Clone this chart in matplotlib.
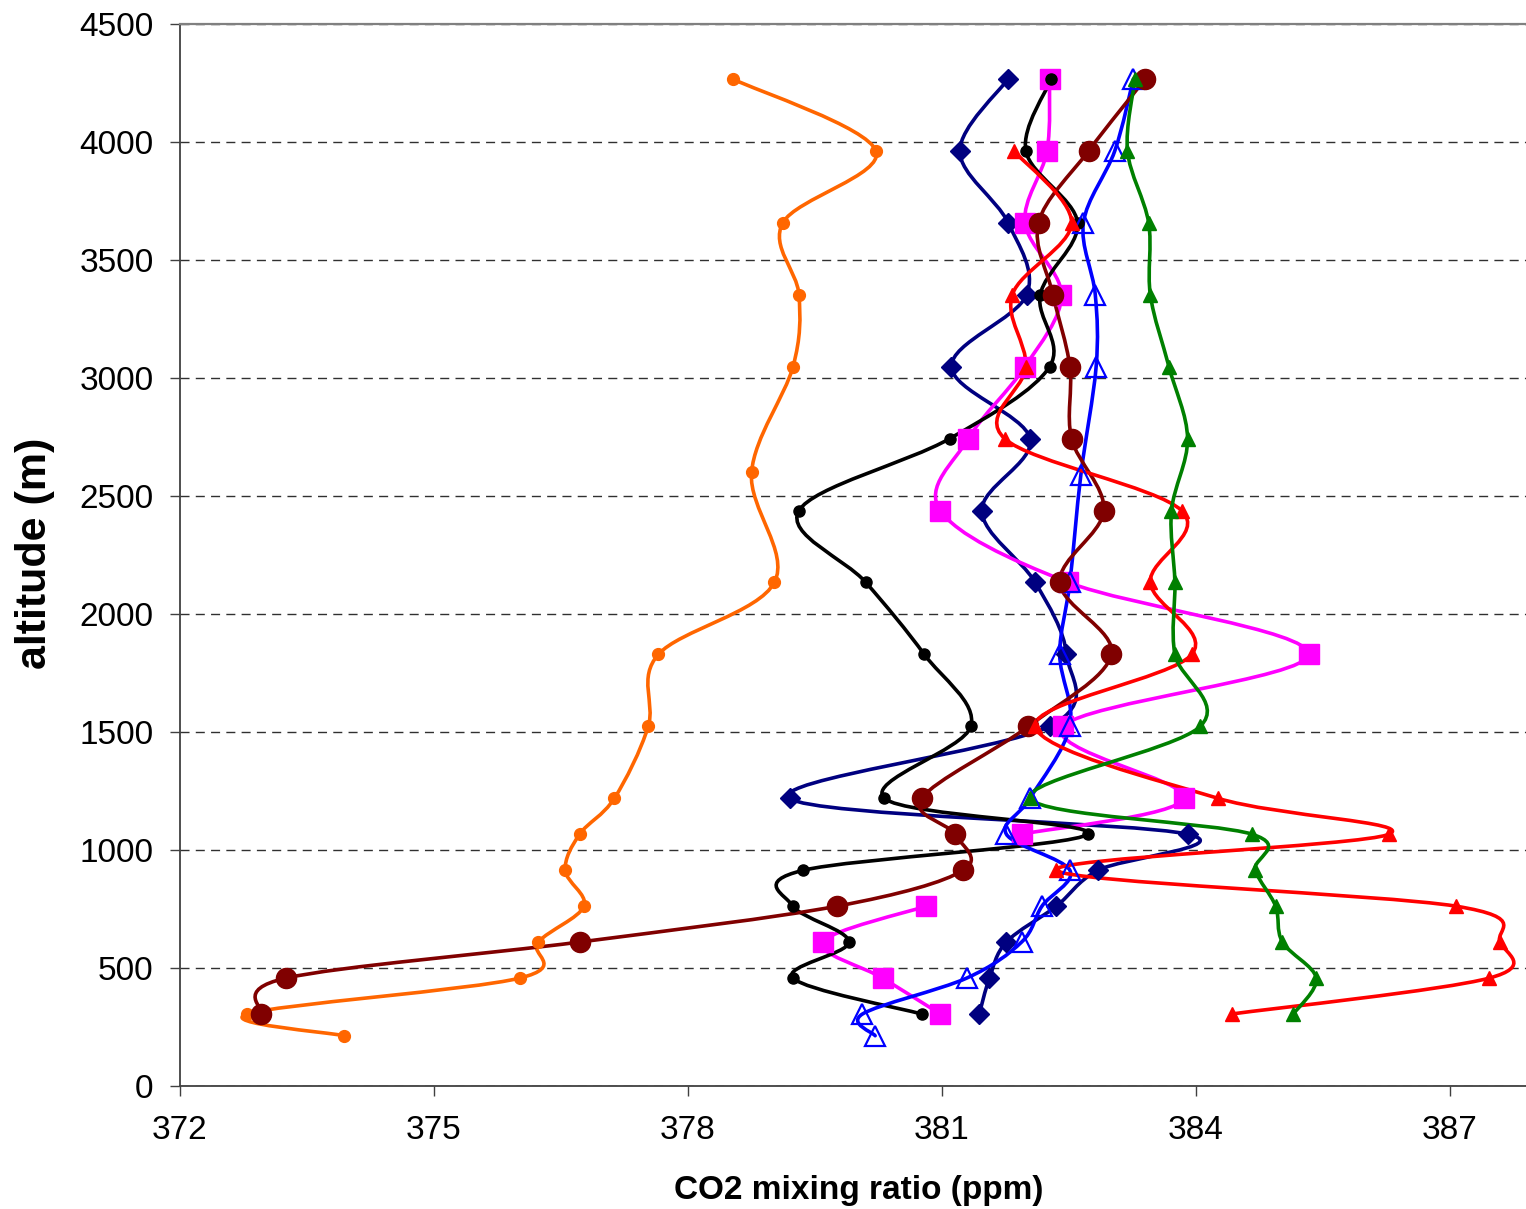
import numpy as np
import matplotlib
matplotlib.use("Agg")
import matplotlib.pyplot as plt
from matplotlib.path import Path
from matplotlib.patches import PathPatch

# -----------------------------
# Data (altitudes in m, CO2 in ppm)
# -----------------------------

# standard flight levels (1000 ft ... 14000 ft) in metres
ALT_LEVELS = [4267, 3962, 3658, 3353, 3048, 2743, 2438, 2134,
              1829, 1524, 1219, 1067, 914, 762, 610, 457, 305]

alt_orange = [4267, 3962, 3658, 3353, 3048, 2600, 2134, 1829, 1524,
              1219, 1067, 914, 762, 610, 457, 305, 213]
co2_orange = [378.53, 380.22, 379.12, 379.31, 379.24, 378.75, 379.02, 377.65, 377.53,
              377.13, 376.72, 376.55, 376.77, 376.23, 376.01, 372.79, 373.94]

alt_navy = ALT_LEVELS
co2_navy = [381.78, 381.21, 381.78, 382.00, 381.11, 382.04, 381.47, 382.10, 382.47,
            382.27, 379.20, 383.90, 382.84, 382.35, 381.76, 381.56, 381.44]

alt_magenta = ALT_LEVELS
co2_magenta = [382.27, 382.24, 381.98, 382.41, 381.98, 381.31, 380.98, 382.49, 385.33,
               382.43, 383.86, 381.94, np.nan, 380.81, 379.59, 380.30, 380.98]

alt_black = ALT_LEVELS
co2_black = [382.29, 381.99, 382.60, 382.16, 382.27, 381.09, 379.31, 380.10, 380.79,
             381.34, 380.32, 382.72, 379.36, 379.24, 379.90, 379.24, 380.76]

alt_blue = [4267, 3962, 3658, 3353, 3048, 2591, 2134, 1829, 1524,
            1219, 1067, 914, 762, 610, 457, 305, 213]
co2_blue = [383.26, 383.04, 382.67, 382.81, 382.82, 382.64, 382.51, 382.39, 382.51,
            382.04, 381.76, 382.51, 382.18, 381.94, 381.29, 380.06, 380.21]

alt_maroon = ALT_LEVELS
co2_maroon = [383.40, 382.73, 382.14, 382.31, 382.51, 382.53, 382.91, 382.39, 383.00,
              382.02, 380.76, 381.15, 381.25, 379.76, 376.72, 373.25, 372.96]

alt_red = ALT_LEVELS[1:]
co2_red = [381.85, 382.53, 381.83, 381.99, 381.74, 383.83, 383.46, 383.95,
           382.10, 384.26, 386.28, 382.35, 387.07, 387.59, 387.46, 384.42]

alt_green = ALT_LEVELS
co2_green = [383.28, 383.19, 383.44, 383.46, 383.68, 383.90, 383.71, 383.75, 383.75,
             384.05, 382.04, 384.66, 384.70, 384.94, 385.02, 385.42, 385.15]

X_TICKS = [372, 375, 378, 381, 384, 387]
Y_TICKS = [0, 500, 1000, 1500, 2000, 2500, 3000, 3500, 4000, 4500]


# -----------------------------
# Helpers
# -----------------------------

def smooth_path(x, y):
    """Excel-like smoothed line: cubic Bezier through the points."""
    pts = np.column_stack([x, y])
    n = len(pts)
    verts = [pts[0]]
    codes = [Path.MOVETO]
    for i in range(n - 1):
        p0 = pts[max(i - 1, 0)]
        p1 = pts[i]
        p2 = pts[i + 1]
        p3 = pts[min(i + 2, n - 1)]
        verts += [p1 + (p2 - p0) / 6.0, p2 - (p3 - p1) / 6.0, p2]
        codes += [Path.CURVE4] * 3
    return Path(verts, codes)


def draw_series(ax, co2, alt, color, marker, ms, mfc=None, mew=1.0, lw=2.6):
    co2 = np.asarray(co2, dtype=float)
    alt = np.asarray(alt, dtype=float)
    ok = np.isfinite(co2)
    # split into runs where the line is not broken
    start = None
    for i in range(len(co2) + 1):
        good = i < len(co2) and ok[i]
        if good and start is None:
            start = i
        elif not good and start is not None:
            if i - start > 1:
                path = smooth_path(co2[start:i], alt[start:i])
                ax.add_patch(PathPatch(path, facecolor="none", edgecolor=color,
                                       lw=lw, capstyle="round", joinstyle="round"))
            start = None
    ax.plot(co2, alt, linestyle="none", marker=marker, ms=ms, color=color,
            mfc=color if mfc is None else mfc, mec=color, mew=mew)


# -----------------------------
# Figure
# -----------------------------

plt.rcParams["font.family"] = ["Liberation Sans", "DejaVu Sans"]

W, H = 1526, 1209
fig = plt.figure(figsize=(W / 100, H / 100), dpi=100)
ax = fig.add_axes([180 / W, (H - 1086) / H, (W - 180) / W, (1086 - 24) / H])

ax.grid(axis="y", color="#303030", lw=1.0, linestyle=(0, (6.5, 4.5)))
ax.set_axisbelow(True)

draw_series(ax, co2_orange, alt_orange, "#FF6600", "o", 8.5)
draw_series(ax, co2_navy, alt_navy, "#000080", "D", 10.5)
draw_series(ax, co2_magenta, alt_magenta, "#FF00FF", "s", 14)
draw_series(ax, co2_black, alt_black, "#000000", "o", 8)
draw_series(ax, co2_blue, alt_blue, "#0000FF", "^", 15, mfc="none", mew=1.6)
draw_series(ax, co2_maroon, alt_maroon, "#800000", "o", 14.5)
draw_series(ax, co2_red, alt_red, "#FF0000", "^", 9.5)
draw_series(ax, co2_green, alt_green, "#008000", "^", 9.5)

ax.set_xlim(372, 372 + 1346 / 84.67)
ax.set_ylim(0, 4500)
ax.set_xticks(X_TICKS)
ax.set_yticks(Y_TICKS)

ax.spines["right"].set_visible(False)
ax.spines["top"].set_color("#808080")
ax.spines["top"].set_linewidth(1.6)
for side in ("left", "bottom"):
    ax.spines[side].set_color("#404040")
    ax.spines[side].set_linewidth(1.3)

ax.tick_params(axis="both", direction="out", length=7, width=1.0,
               color="#404040", labelsize=24, labelcolor="black")
ax.tick_params(axis="x", pad=14)
ax.tick_params(axis="y", pad=12)

ax.set_xlabel("CO2 mixing ratio (ppm)", fontsize=24, fontweight="bold")
ax.xaxis.label.set_va("center")
ax.xaxis.set_label_coords((859 - 180) / 1346, (1086 - 1191) / 1062)
ax.set_ylabel("altitude (m)", fontsize=31, fontweight="bold")
ax.yaxis.label.set_va("center")
ax.yaxis.set_label_coords((35 - 180) / 1346, (1086 - 553) / 1062)

fig.savefig("out.png", dpi=100)
